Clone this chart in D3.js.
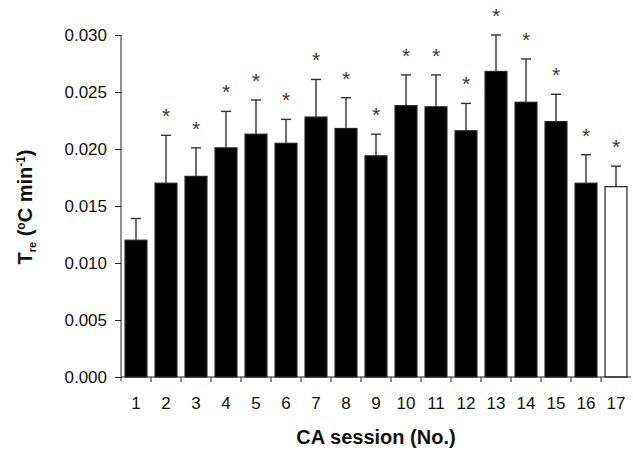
<!DOCTYPE html>
<html>
<head>
<meta charset="utf-8">
<script src="https://cdn.jsdelivr.net/npm/d3@7"></script>
<style>
  html, body { margin: 0; padding: 0; background: #fff; }
  svg text { font-family: "Liberation Sans", Arial, sans-serif; }
</style>
</head>
<body>
<svg id="chart" width="633" height="452"></svg>
<script>
const sessions = ["1","2","3","4","5","6","7","8","9","10","11","12","13","14","15","16","17"];
const means = [0.0120,0.0170,0.0176,0.0201,0.0213,0.0205,0.0228,0.0218,0.0194,0.0238,0.0237,0.0216,0.0268,0.0241,0.0224,0.0170,0.0167];
const upperErr = [0.0139,0.0212,0.0201,0.0233,0.0243,0.0226,0.0261,0.0245,0.0213,0.0265,0.0265,0.0240,0.0300,0.0279,0.0248,0.0195,0.0185];
const significant = [false,true,true,true,true,true,true,true,true,true,true,true,true,true,true,true,true];
const openBar = [false,false,false,false,false,false,false,false,false,false,false,false,false,false,false,false,true];
const yTicks = [0,0.005,0.010,0.015,0.020,0.025,0.030];

const svg = d3.select("#chart");
const mLeft = 121, mRight = 631, mTop = 35, mBottom = 377;

const x = d3.scaleBand().domain(sessions).range([mLeft, mRight]).paddingInner(0.27).paddingOuter(0.135);
const xTickScale = d3.scaleBand().domain(sessions).range([mLeft, mRight]);
const y = d3.scaleLinear().domain([0, 0.030]).range([mBottom, mTop]);

// bars
svg.selectAll("rect.bar").data(sessions).enter().append("rect")
  .attr("x", d => x(d))
  .attr("width", x.bandwidth())
  .attr("y", (d,i) => y(means[i]))
  .attr("height", (d,i) => mBottom - y(means[i]))
  .attr("fill", (d,i) => openBar[i] ? "#fff" : "#000")
  .attr("stroke", "#222")
  .attr("stroke-width", 1.2);

// error bars
const eg = svg.append("g").attr("stroke", "#333").attr("stroke-width", 1.4);
sessions.forEach((d,i) => {
  const cx = x(d) + x.bandwidth()/2;
  eg.append("line").attr("x1", cx).attr("x2", cx).attr("y1", y(means[i])).attr("y2", y(upperErr[i]));
  eg.append("line").attr("x1", cx-5).attr("x2", cx+5).attr("y1", y(upperErr[i])).attr("y2", y(upperErr[i]));
});

// stars
sessions.forEach((d,i) => {
  if (!significant[i]) return;
  svg.append("text")
    .attr("x", x(d) + x.bandwidth()/2)
    .attr("y", y(upperErr[i]) - 12)
    .attr("text-anchor", "middle")
    .attr("font-size", 21)
    .attr("fill", "#3a3a3a")
    .text("*");
});

// y axis
const yAxis = svg.append("g").attr("transform", `translate(${mLeft},0)`)
  .call(d3.axisLeft(y).tickValues(yTicks).tickFormat(d3.format(".3f")).tickSizeOuter(0).tickSizeInner(6).tickPadding(8));
yAxis.select(".domain").attr("stroke", "#222").attr("d", `M0,${mTop}V${mBottom+4}`);
yAxis.selectAll(".tick line").attr("stroke", "#222");
yAxis.selectAll(".tick text").attr("font-size", 17).attr("fill", "#111")
  .attr("font-family", "Liberation Sans, Arial, sans-serif");

// x axis
const xAxis = svg.append("g").attr("transform", `translate(0,${mBottom})`);
xAxis.append("line").attr("x1", mLeft).attr("x2", mRight).attr("y1", 0).attr("y2", 0).attr("stroke", "#222");
xAxis.selectAll("line.xt").data(sessions.slice(0,16)).enter().append("line")
  .attr("x1", d => xTickScale(d) + xTickScale.bandwidth())
  .attr("x2", d => xTickScale(d) + xTickScale.bandwidth())
  .attr("y1", 0).attr("y2", 5).attr("stroke", "#222");
xAxis.selectAll("text").data(sessions).enter().append("text")
  .attr("x", d => xTickScale(d) + xTickScale.bandwidth()/2)
  .attr("y", 32)
  .attr("text-anchor", "middle")
  .attr("font-size", 17)
  .attr("fill", "#111")
  .text(d => d);

// axis titles
svg.append("text").attr("x", 376).attr("y", 444).attr("text-anchor", "middle")
  .attr("font-size", 20).attr("font-weight", "bold").attr("fill", "#111").text("CA session (No.)");

const yt = svg.append("text").attr("transform", "translate(32,207) rotate(-90)")
  .attr("text-anchor", "middle").attr("font-size", 20).attr("font-weight", "bold").attr("fill", "#111");
yt.append("tspan").text("T");
yt.append("tspan").attr("font-size", 11).attr("dy", 4).text("re");
yt.append("tspan").attr("dy", -4).text(" (");
yt.append("tspan").attr("font-size", 12).attr("dy", -7).text("o");
yt.append("tspan").attr("dy", 7).text("C min");
yt.append("tspan").attr("font-size", 12).attr("dy", -7).text("-1");
yt.append("tspan").attr("dy", 7).text(")");
</script>
</body>
</html>
